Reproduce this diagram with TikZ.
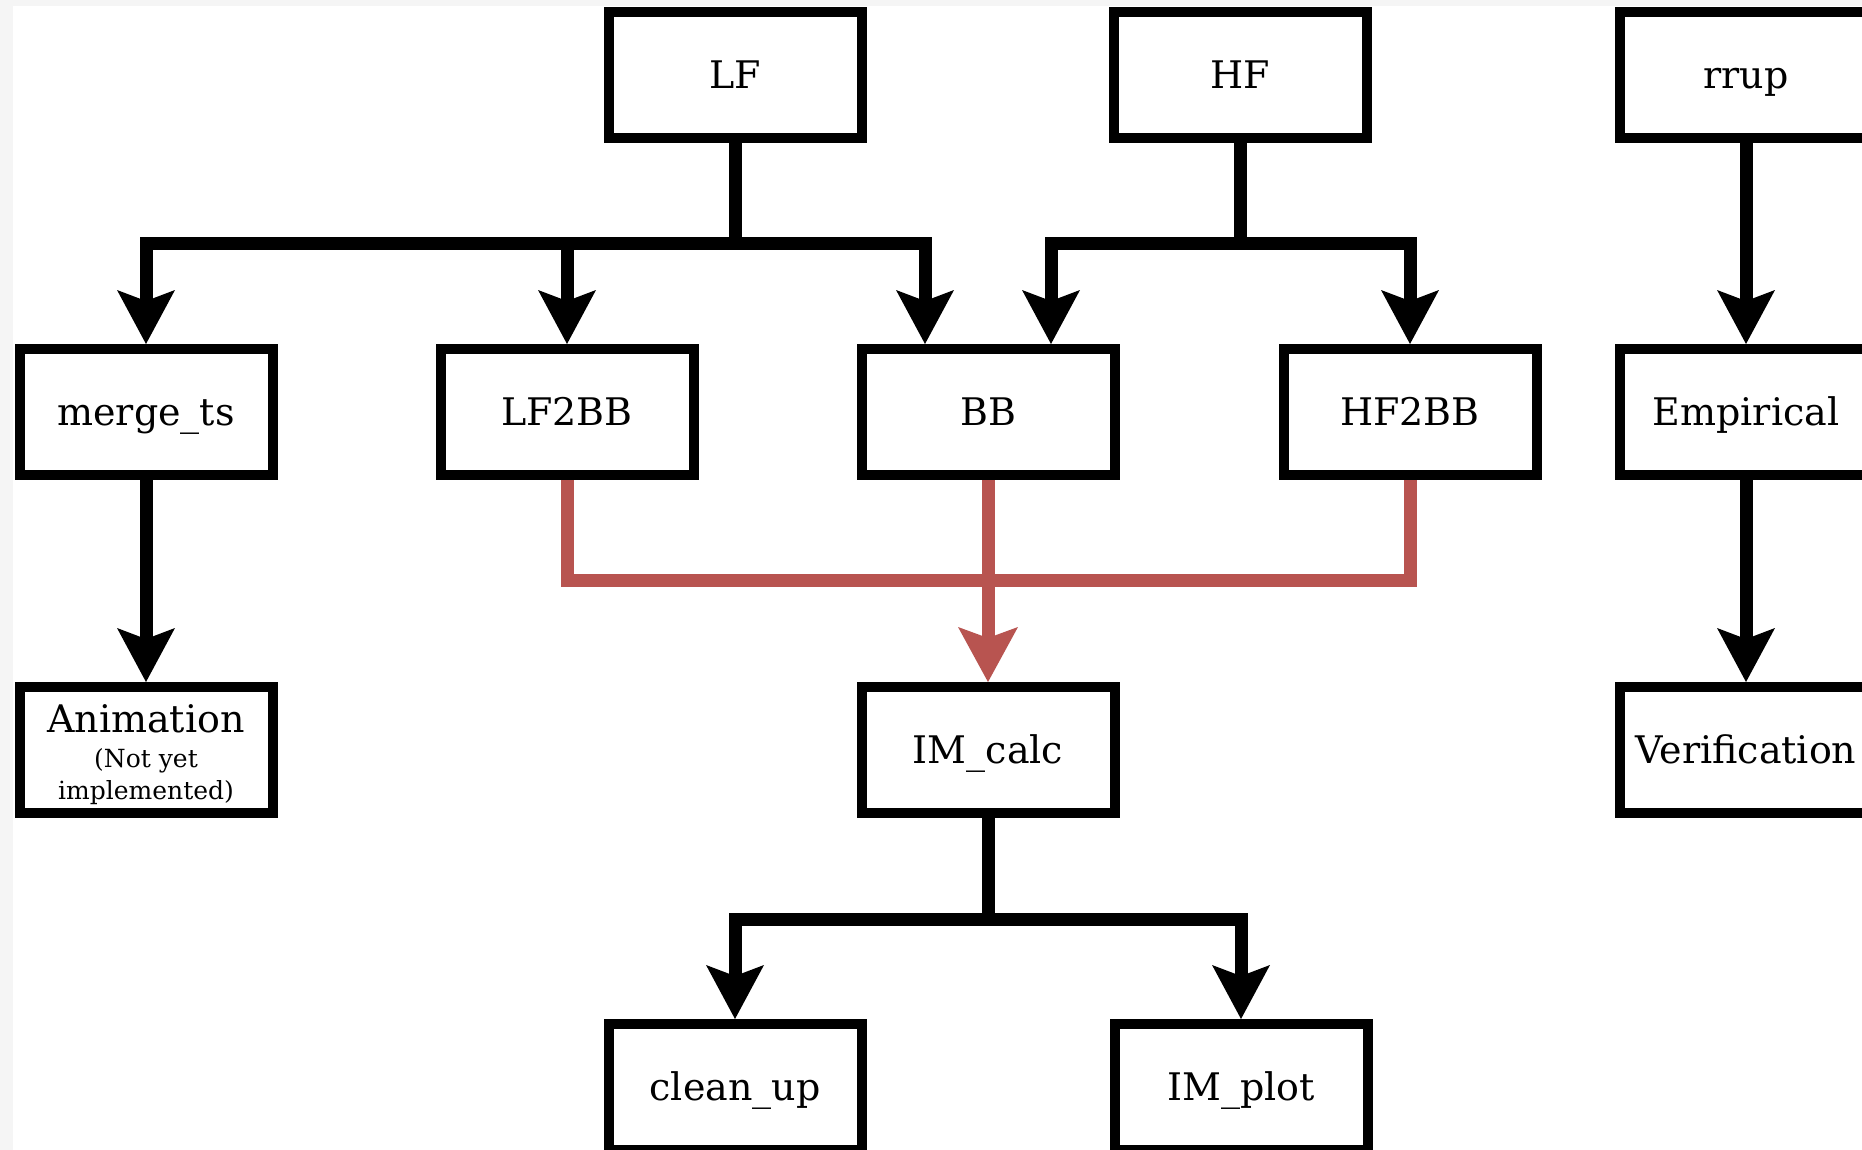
\documentclass[tikz,border=0pt]{standalone}
\usepackage{fontspec}
\setmainfont{DejaVu Serif}
\usetikzlibrary{arrows.meta}
\definecolor{bbred}{HTML}{B85450}
\definecolor{edgegray}{HTML}{F5F5F5}
\newcommand{\labelsize}{\fontsize{38}{45}\selectfont}
\newcommand{\notesize}{\fontsize{25}{29}\selectfont}

\begin{document}
\begin{tikzpicture}[x=1pt, y=-1pt,
  boxbase/.style={draw=black, line width=10pt, fill=white,
    minimum width=253pt, minimum height=126pt, inner sep=0pt, font=\labelsize},
  box/.style={boxbase, text height=27.7pt, text depth=0pt},
  wire/.style={line width=13pt, line join=miter},
  arr/.style={wire, -{Stealth[length=54pt, width=58pt, inset=11pt, line width=0pt]}},
  redwire/.style={wire, draw=bbred},
  redarr/.style={redwire, -{Stealth[length=55pt, width=60pt, inset=11pt, line width=0pt]}}
]
\useasboundingbox (0,0) rectangle (1862,1150);
\clip (0,0) rectangle (1862,1150);
\fill[edgegray] (0,0) rectangle (1862,1150);
\fill[white] (13,6) rectangle (1862,1150);

% first row: inputs
\node[box] (lf)   at (735,75)  {LF};
\node[box] (hf)   at (1240,75) {HF};
\node[box] (rrup) at (1746,75) {rrup};

% second row
\node[box] (merge) at (146,412)  {merge\_ts};
\node[box] (lf2bb) at (567,412)  {LF2BB};
\node[box] (bb)    at (988,412)  {BB};
\node[box] (hf2bb) at (1410,412) {HF2BB};
\node[box] (emp)   at (1746,412) {Empirical};

% third row
\node[boxbase, align=center, font=\fontsize{38}{29}\selectfont] (anim) at (146,750)
  {\rule{0pt}{38pt}Animation\\[6pt]\notesize (Not yet\\[3pt]\notesize implemented)};
\node[box] (imcalc) at (988,750)  {IM\_calc};
\node[box] (verif)  at (1746,750) {Verification};

% fourth row
\node[box] (cleanup) at (735,1087)  {clean\_up};
\node[box] (implot)  at (1241,1087) {IM\_plot};

% branch points
\coordinate (lfj)  at (735,244);
\coordinate (hfj)  at (1240,244);
\coordinate (redj) at (988,580);
\coordinate (imj)  at (988,919);

% LF fan-out
\draw[wire] (lf.south) -- (lfj);
\draw[arr] (lfj) -| (merge.north);
\draw[arr] (lfj) -| (lf2bb.north);
\draw[arr] (lfj) -| ([xshift=-63pt]bb.north);

% HF fan-out
\draw[wire] (hf.south) -- (hfj);
\draw[arr] (hfj) -| ([xshift=63pt]bb.north);
\draw[arr] (hfj) -| (hf2bb.north);

% straight chains
\draw[arr] (rrup) -- (emp);
\draw[arr] (emp) -- (verif);
\draw[arr] (merge) -- (anim);

% broadband products into IM_calc
\draw[redwire] (lf2bb.south) |- (redj);
\draw[redwire] (hf2bb.south) |- (redj);
\draw[redarr] (bb) -- (imcalc);

% IM_calc fan-out
\draw[wire] (imcalc.south) -- (imj);
\draw[arr] (imj) -| (cleanup.north);
\draw[arr] (imj) -| (implot.north);
\end{tikzpicture}
\end{document}
